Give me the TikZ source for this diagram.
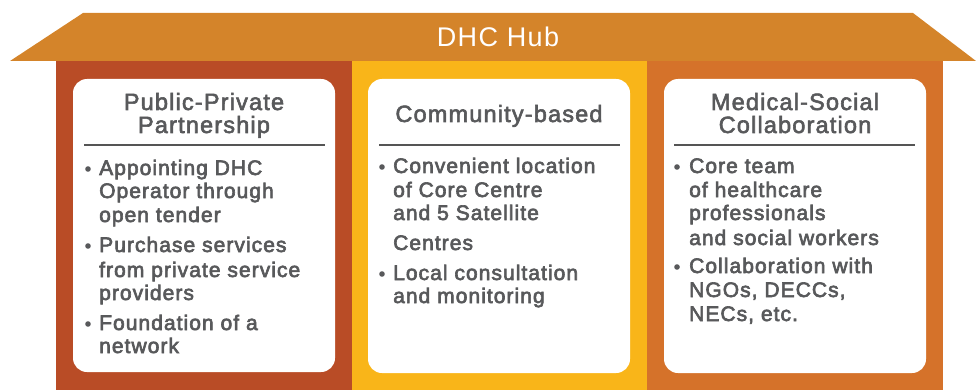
\documentclass[tikz,border=0pt]{standalone}
\usepackage{fontspec}
\newfontfamily\hubfont{Liberation Sans}[LetterSpace=5]
\newfontfamily\titlefont{Liberation Sans}[LetterSpace=5,FakeBold=2.5]
\newfontfamily\bodyfont{Liberation Sans}[LetterSpace=5,FakeBold=3]
\definecolor{roofc}{HTML}{D4842A}
\definecolor{leftc}{HTML}{B94C26}
\definecolor{midc}{HTML}{F9B519}
\definecolor{rightc}{HTML}{D5722A}
\definecolor{txtc}{HTML}{58595B}
\definecolor{linec}{HTML}{555555}
\tikzset{
  hub/.style={inner sep=0pt, anchor=base, text=white, font=\hubfont\fontsize{27}{30}\selectfont},
  ttl/.style={inner sep=0pt, anchor=base, text=txtc, font=\titlefont\fontsize{23.5}{26}\selectfont},
  bod/.style={inner sep=0pt, anchor=base west, text=txtc, font=\bodyfont\fontsize{21}{24}\selectfont},
  card/.style={fill=white, rounded corners=14pt},
  divider/.style={draw=linec, line width=1.6pt},
  dot/.style={fill=txtc}
}
\begin{document}
\begin{tikzpicture}[x=1pt,y=-1pt]
\useasboundingbox (0,0) rectangle (976,390);
% roof
\fill[roofc] (10,61) -- (83,13) -- (913,13) -- (976,61) -- cycle;
% columns
\fill[leftc] (56,61) rectangle (352,390);
\fill[midc] (352,61) rectangle (647,390);
\fill[rightc] (647,61) rectangle (943,390);
\node[hub] (hubtitle) at (498,47) {DHC Hub};
% cards
\fill[card] (73,79) rectangle (335,372);
\fill[card] (368,79) rectangle (630,373);
\fill[card] (664,79) rectangle (926,373);
% dividers
\draw[divider] (84,145) -- (325,145);
\draw[divider] (379,145) -- (620,145);
\draw[divider] (674,145) -- (915,145);
% titles
\node[ttl] (t1a) at (204,110) {Public-Private};
\node[ttl] (t1b) at (204,133) {Partnership};
\node[ttl] (t2a) at (499,122) {Community-based};
\node[ttl] (t3a) at (795,110) {Medical-Social};
\node[ttl] (t3b) at (795,133) {Collaboration};
% left body
\fill[dot] (88,169) circle (2.8);
\fill[dot] (88,246) circle (2.8);
\fill[dot] (88,324) circle (2.8);
\node[bod] (l1) at (99,175) {Appointing DHC};
\node[bod] (l2) at (99,198) {Operator through};
\node[bod] (l3) at (99,222) {open tender};
\node[bod] (l4) at (99,252) {Purchase services};
\node[bod] (l5) at (99,277) {from private service};
\node[bod] (l6) at (99,300) {providers};
\node[bod] (l7) at (99,330) {Foundation of a};
\node[bod] (l8) at (99,353) {network};
% middle body
\fill[dot] (382,167) circle (2.8);
\fill[dot] (382,274) circle (2.8);
\node[bod] (m1) at (393,173) {Convenient location};
\node[bod] (m2) at (393,197) {of Core Centre};
\node[bod] (m3) at (393,220) {and 5 Satellite};
\node[bod] (m4) at (393,250) {Centres};
\node[bod] (m5) at (393,280) {Local consultation};
\node[bod] (m6) at (393,303) {and monitoring};
% right body
\fill[dot] (677,167) circle (2.8);
\fill[dot] (677,267) circle (2.8);
\node[bod] (r1) at (689,173) {Core team};
\node[bod] (r2) at (689,197) {of healthcare};
\node[bod] (r3) at (689,220) {professionals};
\node[bod] (r4) at (689,245) {and social workers};
\node[bod] (r5) at (689,273) {Collaboration with};
\node[bod] (r6) at (689,297) {NGOs, DECCs,};
\node[bod] (r7) at (689,321) {NECs, etc.};
\end{tikzpicture}
\end{document}
